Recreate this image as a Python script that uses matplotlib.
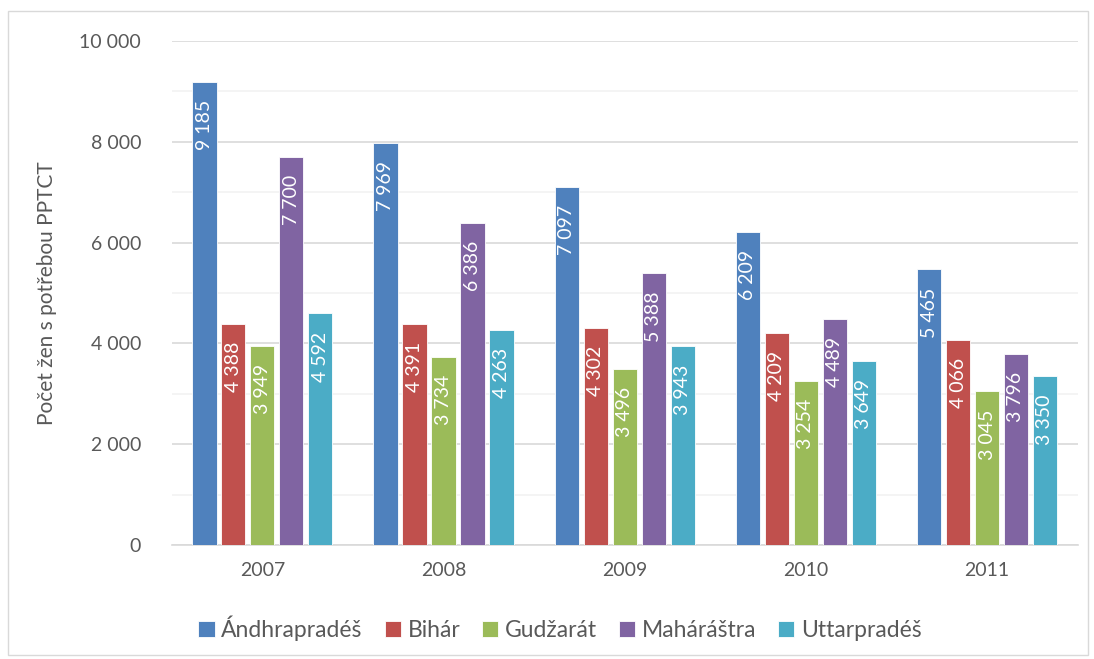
import matplotlib.pyplot as plt
import numpy as np
from matplotlib.patches import Rectangle
from matplotlib.ticker import FuncFormatter, MultipleLocator

years = ["2007", "2008", "2009", "2010", "2011"]
states = ["Ándhrapradéš", "Bihár", "Gudžarát", "Maháráštra", "Uttarpradéš"]
andhra = [9185, 7969, 7097, 6209, 5465]
bihar = [4388, 4391, 4302, 4209, 4066]
gudzarat = [3949, 3734, 3496, 3254, 3045]
maharastra = [7700, 6386, 5388, 4489, 3796]
uttar = [4592, 4263, 3943, 3649, 3350]
colors = ["#4F81BD", "#C0504D", "#9BBB59", "#8064A2", "#4BACC6"]

plt.rcParams['font.family'] = ['Lato', 'DejaVu Sans']
txt = "#595959"

fig = plt.figure(figsize=(10.94, 6.59), dpi=100)
ax = fig.add_axes([0.157, 0.173, 0.828, 0.765])

def fmt(v):
    return f"{int(v):,}".replace(",", " ")

x = np.arange(len(years))
step = 0.16
width = 0.134
series = [andhra, bihar, gudzarat, maharastra, uttar]
for i, (vals, name, c) in enumerate(zip(series, states, colors)):
    pos = x + (i - 2) * step
    ax.bar(pos, vals, width, color=c, label=name, edgecolor="white",
           linewidth=0.6, zorder=3)
    for p, v in zip(pos, vals):
        ax.annotate(fmt(v), (p, v), xytext=(0, -13), textcoords="offset points",
                    rotation=90, ha="center", va="top", color="white",
                    fontsize=14, zorder=4)

ax.set_xlim(-0.5, len(years) - 0.5)
ax.set_ylim(0, 10000)
ax.set_xticks(x)
ax.set_xticklabels(years)
ax.yaxis.set_major_locator(MultipleLocator(2000))
ax.yaxis.set_minor_locator(MultipleLocator(1000))
ax.yaxis.set_major_formatter(FuncFormatter(lambda v, _: fmt(v)))
ax.grid(axis="y", which="major", color="#D9D9D9", linewidth=1.2, zorder=0)
ax.grid(axis="y", which="minor", color="#F2F2F2", linewidth=1.2, zorder=0)
ax.tick_params(axis="both", which="both", length=0, labelsize=14,
               labelcolor=txt)
ax.tick_params(axis="y", pad=22)
ax.tick_params(axis="x", pad=12)
for s in ["top", "right", "left"]:
    ax.spines[s].set_visible(False)
ax.spines["bottom"].set_color("#D9D9D9")
ax.spines["bottom"].set_linewidth(1.2)
ax.set_ylabel("Počet žen s potřebou PPTCT", fontsize=15, color=txt, labelpad=16)

fig.legend(loc="center", bbox_to_anchor=(560 / 1094, 1 - 628 / 659), ncol=5,
           frameon=False, fontsize=16.5, handlelength=0.7, handleheight=0.7,
           handletextpad=0.3, columnspacing=0.95, labelcolor=txt)

fig.patches.append(Rectangle((8 / 1094, 4 / 659), 1080 / 1094, 644 / 659,
                             transform=fig.transFigure, fill=False,
                             edgecolor="#D9D9D9", linewidth=1))

fig.savefig("out.png", dpi=100)
